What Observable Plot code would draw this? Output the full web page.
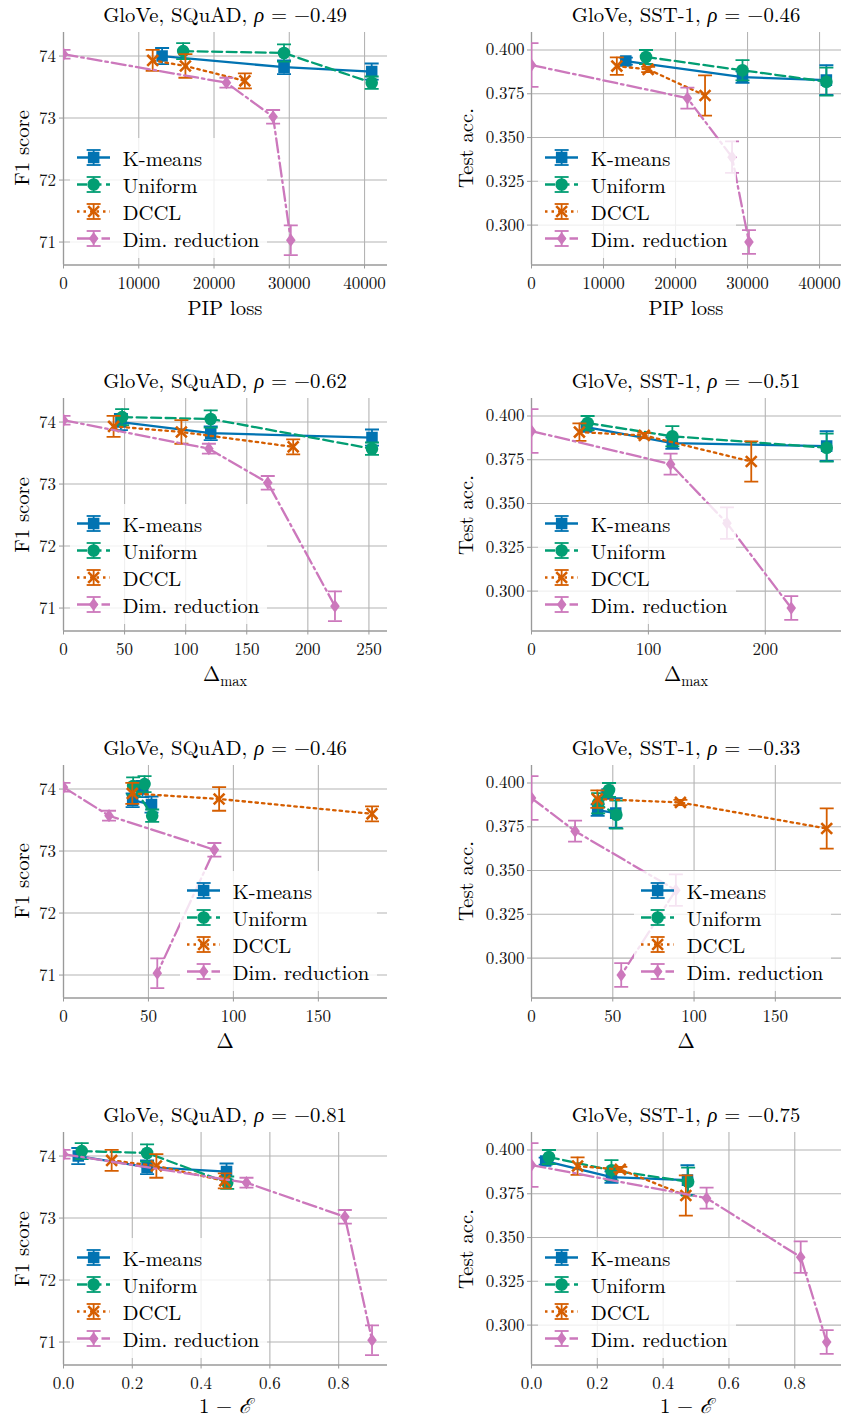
<!DOCTYPE html>
<html>
<head>
<meta charset="utf-8">
<script src="https://cdn.jsdelivr.net/npm/d3@7"></script>
<script src="https://cdn.jsdelivr.net/npm/@observablehq/plot@0.6"></script>
<style>
  body { margin: 0; background: #fff; }
  #root { position: relative; width: 843px; height: 1419px; font-family: "Latin Modern Roman", "Liberation Serif", serif; color: #000; overflow: hidden; }
  .abs { position: absolute; }
  .title { position: absolute; font-size: 20.7px; line-height: 1; white-space: nowrap; transform: translate(-50%, -50%); }
  .xlab { position: absolute; font-size: 20.7px; line-height: 0.9; white-space: nowrap; transform: translate(-50%, -50%); }
  .ylab { position: absolute; font-size: 20.7px; line-height: 1; white-space: nowrap; transform: translate(-50%, -50%) rotate(-90deg); }
  .gr { font-family: "Liberation Serif", serif; font-style: italic; }
  .cal { font-family: "Liberation Serif", serif; font-style: italic; line-height: 0; }
  .legend { position: absolute; background: rgba(255,255,255,0.8); padding: 6px 8px 6px 7px; border-radius: 3px; }
  .lrow { display: flex; align-items: center; height: 27px; font-size: 20.7px; white-space: nowrap; }
  .lrow svg { margin-right: 12.7px; flex: none; }
</style>
</head>
<body>
<div id="root"></div>
<script>
// ---------------- data ----------------
const methods = ["K-means", "Uniform", "DCCL", "Dim. reduction"];

// SQuAD F1 score (left column)
const f1Kmeans = [74.00, 73.82, 73.75];
const f1KmeansErr = [0.13, 0.11, 0.13];
const f1Uniform = [74.08, 74.05, 73.57];
const f1UniformErr = [0.13, 0.14, 0.10];
const f1Dccl = [73.93, 73.84, 73.60];
const f1DcclErr = [0.17, 0.19, 0.12];
const f1Dim = [74.03, 73.57, 73.02, 71.03];
const f1DimErr = [0.07, 0.08, 0.11, 0.24];

// SST-1 test accuracy (right column)
const accKmeans = [0.3937, 0.3845, 0.3828];
const accKmeansErr = [0.002, 0.0033, 0.0085];
const accUniform = [0.3960, 0.3884, 0.3819];
const accUniformErr = [0.004, 0.0058, 0.008];
const accDccl = [0.3908, 0.3889, 0.3740];
const accDcclErr = [0.005, 0.0015, 0.0115];
const accDim = [0.3914, 0.3725, 0.3388, 0.2903];
const accDimErr = [0.0125, 0.006, 0.009, 0.0068];

// x metrics
const pipKmeans = [13100, 29300, 40950];
const pipUniform = [15900, 29300, 40950];
const pipDccl = [11850, 16200, 24100];
const pipDim = [0, 21650, 27850, 30200];

const dmaxKmeans = [47, 120.5, 252.5];
const dmaxUniform = [48, 120.5, 252.5];
const dmaxDccl = [41, 96.5, 188];
const dmaxDim = [0, 119, 167.2, 222.2];

const deltaKmeans = [46.5, 40.7, 51.8];
const deltaUniform = [47.7, 41, 52.2];
const deltaDccl = [40.5, 91.6, 181.6];
const deltaDim = [0, 26.8, 88.8, 55.2];

const oneMinusEKmeans = [0.043, 0.243, 0.474];
const oneMinusEUniform = [0.053, 0.243, 0.476];
const oneMinusEDccl = [0.14, 0.27, 0.469];
const oneMinusEDim = [0, 0.532, 0.818, 0.897];

// text
const rhoSquad = ["−0.49", "−0.62", "−0.46", "−0.81"];
const rhoSst = ["−0.46", "−0.51", "−0.33", "−0.75"];
const xLabels = ["PIP loss", "Δ<sub style='font-size:14.5px;line-height:0'>max</sub>", "Δ", "1 − <i>ℰ</i>"];
const yLabels = ["F1 score", "Test acc."];

// x tick values
const pipTicks = [0, 10000, 20000, 30000, 40000];
const dmaxTicksLeft = [0, 50, 100, 150, 200, 250];
const dmaxTicksRight = [0, 100, 200];
const deltaTicks = [0, 50, 100, 150];
const oneMinusETicks = [0, 0.2, 0.4, 0.6, 0.8];
const f1Ticks = [71, 72, 73, 74];
const accTicks = [0.300, 0.325, 0.350, 0.375, 0.400];

// ---------------- style ----------------
const FONT = "'Latin Modern Roman', 'Liberation Serif', serif";
const colors = ["#0173B2", "#029E73", "#D55E00", "#CC78BC"];
const thinDiamond = { draw(ctx) { ctx.moveTo(0, -6.6); ctx.lineTo(4.8, 0); ctx.lineTo(0, 6.6); ctx.lineTo(-4.8, 0); ctx.closePath(); } };
const capSymbol = { draw(ctx) { ctx.moveTo(-7, 0); ctx.lineTo(7, 0); } };
const symbols = [d3.symbolSquare, d3.symbolCircle, d3.symbolTimes, thinDiamond];
const symbolR = [6.5, 6.3, 5, 5];
const dashes = [null, "10,4.5", "2.5,4", "14,4,2.5,4"];
const gridColor = "#b4b4b4";
const spineColor = "#9a9a9a";

const rows = [
  { xs: [pipKmeans, pipUniform, pipDccl, pipDim], domain: [0, 43050], ticks: [pipTicks, pipTicks], fmt: d => String(d), labOff: 43 },
  { xs: [dmaxKmeans, dmaxUniform, dmaxDccl, dmaxDim], domain: [0, 265.2], ticks: [dmaxTicksLeft, dmaxTicksRight], fmt: d => String(d), labOff: 42.5 },
  { xs: [deltaKmeans, deltaUniform, deltaDccl, deltaDim], domain: [0, 190.7], ticks: [deltaTicks, deltaTicks], fmt: d => String(d), labOff: 42.5 },
  { xs: [oneMinusEKmeans, oneMinusEUniform, oneMinusEDccl, oneMinusEDim], domain: [0, 0.942], ticks: [oneMinusETicks, oneMinusETicks], fmt: d3.format(".1f"), labOff: 40 }
];
const cols = [
  { ys: [f1Kmeans, f1Uniform, f1Dccl, f1Dim], es: [f1KmeansErr, f1UniformErr, f1DcclErr, f1DimErr],
    yDomain: [70.63, 74.38], yTicks: f1Ticks, yFmt: d => String(d),
    left: 0, width: 400, ml: 63, mr: 13, yPad: 3.5, dataset: "SQuAD", rho: rhoSquad, ylabX: 21 },
  { ys: [accKmeans, accUniform, accDccl, accDim], es: [accKmeansErr, accUniformErr, accDcclErr, accDimErr],
    yDomain: [0.2772, 0.4100], yTicks: accTicks, yFmt: d3.format(".3f"),
    left: 420, width: 423, ml: 111, mr: 2, yPad: 3, dataset: "SST-1", rho: rhoSst, ylabX: 465 }
];
const plotTops = [31.7, 398.3, 765, 1132.3];
const plotH = 232.5;
const mTop = 30, mBot = 34;
const legendX = [[76.7, 545], [76.7, 545], [186.7, 640.7], [76.7, 545]];

const root = document.getElementById("root");

function panel(r, c) {
  const R = rows[r], C = cols[c];
  const marks = [
    Plot.gridX(R.ticks[c], { stroke: gridColor, strokeOpacity: 1, strokeWidth: 1.1 }),
    Plot.gridY(C.yTicks, { stroke: gridColor, strokeOpacity: 1, strokeWidth: 1.1 }),
    Plot.ruleX([R.domain[0]], { stroke: spineColor, strokeWidth: 1.3 }),
    Plot.ruleY([C.yDomain[0]], { stroke: spineColor, strokeWidth: 1.3 }),
    Plot.axisX(R.ticks[c], { tickSize: 4, tickPadding: 7.5, stroke: spineColor, fill: "#111", fontSize: 17, tickFormat: R.fmt, label: null }),
    Plot.axisY(C.yTicks, { tickSize: 4, tickPadding: C.yPad, stroke: spineColor, fill: "#111", fontSize: 17, tickFormat: C.yFmt, label: null })
  ];
  methods.forEach((m, i) => {
    const d = R.xs[i].map((x, j) => ({ x, y: C.ys[i][j], lo: C.ys[i][j] - C.es[i][j], hi: C.ys[i][j] + C.es[i][j] }));
    marks.push(Plot.line(d, { x: "x", y: "y", stroke: colors[i], strokeWidth: 2.3, strokeDasharray: dashes[i], clip: true }));
    marks.push(Plot.ruleX(d, { x: "x", y1: "lo", y2: "hi", stroke: colors[i], strokeWidth: 1.8, clip: true }));
    marks.push(Plot.dot(d, { x: "x", y: "lo", symbol: capSymbol, r: 4, fill: "none", stroke: colors[i], strokeWidth: 1.8, clip: true }));
    marks.push(Plot.dot(d, { x: "x", y: "hi", symbol: capSymbol, r: 4, fill: "none", stroke: colors[i], strokeWidth: 1.8, clip: true }));
    if (i === 2) {
      marks.push(Plot.dot(d, { x: "x", y: "y", symbol: symbols[i], r: symbolR[i], fill: "none", stroke: colors[i], strokeWidth: 2.6, clip: true }));
    } else {
      marks.push(Plot.dot(d, { x: "x", y: "y", symbol: symbols[i], r: symbolR[i], fill: colors[i], stroke: "none", clip: true }));
    }
  });
  const svg = Plot.plot({
    width: C.width,
    height: mTop + plotH + mBot,
    marginLeft: C.ml, marginRight: C.mr, marginTop: mTop, marginBottom: mBot,
    style: { fontFamily: FONT, fontSize: "17px", color: "#111", background: "transparent", overflow: "visible" },
    x: { domain: R.domain, label: null },
    y: { domain: C.yDomain, label: null },
    marks
  });
  const wrap = document.createElement("div");
  wrap.className = "abs";
  wrap.style.left = C.left + "px";
  wrap.style.top = (plotTops[r] - mTop) + "px";
  wrap.appendChild(svg);
  root.appendChild(wrap);

  const cx = C.left + C.ml + (C.width - C.ml - C.mr) / 2;
  const t = document.createElement("div");
  t.className = "title";
  t.style.left = cx + "px";
  t.style.top = (plotTops[r] - 17) + "px";
  t.innerHTML = `GloVe, ${C.dataset}, <span class="gr">ρ</span> = ${C.rho[r]}`;
  root.appendChild(t);

  const xl = document.createElement("div");
  xl.className = "xlab";
  xl.style.left = cx + "px";
  xl.style.top = (plotTops[r] + plotH + R.labOff) + "px";
  xl.innerHTML = xLabels[r];
  root.appendChild(xl);

  const yl = document.createElement("div");
  yl.className = "ylab";
  yl.style.left = C.ylabX + "px";
  yl.style.top = (plotTops[r] + plotH / 2) + "px";
  yl.textContent = yLabels[c];
  root.appendChild(yl);

  // legend
  const hx = legendX[r][c];
  const lg = document.createElement("div");
  lg.className = "legend";
  lg.style.left = (hx - 7) + "px";
  lg.style.top = (plotTops[r] + 125.5 - 13.5 - 6) + "px";
  methods.forEach((m, i) => {
    const row = document.createElement("div");
    row.className = "lrow";
    const path = d3.symbol(symbols[i], Math.PI * symbolR[i] * symbolR[i])();
    const filled = i !== 2;
    row.innerHTML = `<svg width="33.3" height="27" viewBox="0 0 33.3 27">
      <line x1="0" x2="33.3" y1="13.5" y2="13.5" stroke="${colors[i]}" stroke-width="2.3" ${dashes[i] ? `stroke-dasharray="${dashes[i]}"` : ""}/>
      <line x1="16.65" x2="16.65" y1="6" y2="21" stroke="${colors[i]}" stroke-width="1.8"/>
      <line x1="9.65" x2="23.65" y1="6" y2="6" stroke="${colors[i]}" stroke-width="1.8"/>
      <line x1="9.65" x2="23.65" y1="21" y2="21" stroke="${colors[i]}" stroke-width="1.8"/>
      <path transform="translate(16.65,13.5)" d="${path}" fill="${filled ? colors[i] : "none"}" stroke="${filled ? "none" : colors[i]}" stroke-width="2.6"/>
    </svg><span>${m}</span>`;
    lg.appendChild(row);
  });
  root.appendChild(lg);
}

for (let r = 0; r < 4; r++) for (let c = 0; c < 2; c++) panel(r, c);
</script>
</body>
</html>
